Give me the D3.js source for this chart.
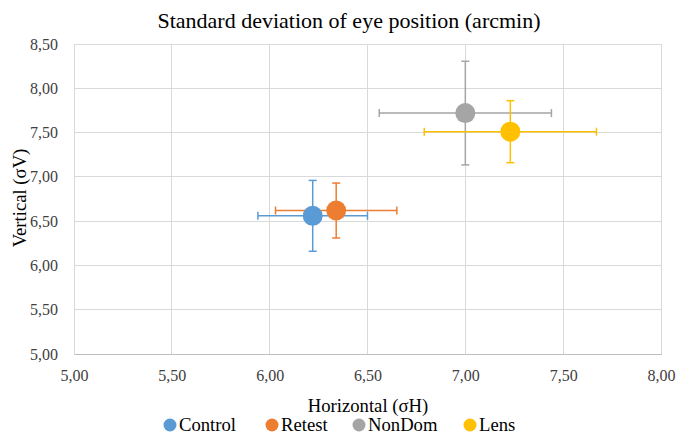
<!DOCTYPE html>
<html><head><meta charset="utf-8">
<script src="https://cdn.jsdelivr.net/npm/d3@7/dist/d3.min.js"></script>
<style>body{margin:0;background:#fff}svg{display:block}</style>
</head><body>
<svg id="c" width="679" height="436"></svg>
<script>
const seriesNames = ["Control", "Retest", "NonDom", "Lens"];
const seriesColors = ["#5B9BD5", "#ED7D31", "#A5A5A5", "#FFC000"];
const xValues = [6.22, 6.34, 7.00, 7.23];
const yValues = [6.56, 6.62, 7.72, 7.51];
const xErrors = [0.28, 0.31, 0.44, 0.44];
const yErrors = [0.40, 0.31, 0.585, 0.35];
const xTicks = [5.0, 5.5, 6.0, 6.5, 7.0, 7.5, 8.0];
const yTicks = [5.0, 5.5, 6.0, 6.5, 7.0, 7.5, 8.0, 8.5];
const titleText = "Standard deviation of eye position (arcmin)";
const xTitle = "Horizontal (σH)";
const yTitle = "Vertical (σV)";

const font = "Liberation Serif, Times New Roman, serif";
const svg = d3.select("#c");
const L = 74, R = 661, T = 44, B = 354;
const x = d3.scaleLinear().domain([5, 8]).range([L, R]);
const y = d3.scaleLinear().domain([5, 8.5]).range([B, T]);
const fmt = d => d.toFixed(2).replace(".", ",");

// gridlines
svg.append("g").selectAll("line").data(xTicks).join("line")
  .attr("x1", d => x(d)).attr("x2", d => x(d)).attr("y1", T).attr("y2", B)
  .attr("stroke", "#D9D9D9").attr("stroke-width", 1).attr("shape-rendering", "crispEdges");
svg.append("g").selectAll("line").data(yTicks).join("line")
  .attr("x1", L).attr("x2", R).attr("y1", d => y(d)).attr("y2", d => y(d))
  .attr("stroke", "#D9D9D9").attr("stroke-width", 1).attr("shape-rendering", "crispEdges");

// axes (labels only)
const xAxis = svg.append("g").attr("transform", `translate(0,${B})`)
  .call(d3.axisBottom(x).tickValues(xTicks).tickFormat(fmt).tickSize(0).tickPadding(16));
xAxis.attr("font-family", font).attr("font-size", 16);
xAxis.select(".domain").attr("stroke", "#BFBFBF").attr("shape-rendering", "crispEdges");
xAxis.selectAll("text").attr("fill", "#404040");

const yAxis = svg.append("g").attr("transform", `translate(${L},0)`)
  .call(d3.axisLeft(y).tickValues(yTicks).tickFormat(fmt).tickSize(0).tickPadding(16));
yAxis.attr("font-family", font).attr("font-size", 16);
yAxis.select(".domain").attr("stroke", "#D9D9D9").attr("shape-rendering", "crispEdges");
yAxis.selectAll("text").attr("fill", "#404040");

// error bars + points
const data = seriesNames.map((n, i) => ({n, c: seriesColors[i], x: xValues[i], y: yValues[i], ex: xErrors[i], ey: yErrors[i]}));
const cap = 4;
const g = svg.append("g");
data.forEach(d => {
  const e = g.append("g").attr("stroke", d.c).attr("stroke-width", 1.5).attr("fill", "none");
  e.append("line").attr("x1", x(d.x - d.ex)).attr("x2", x(d.x + d.ex)).attr("y1", y(d.y)).attr("y2", y(d.y));
  e.append("line").attr("x1", x(d.x - d.ex)).attr("x2", x(d.x - d.ex)).attr("y1", y(d.y) - cap).attr("y2", y(d.y) + cap);
  e.append("line").attr("x1", x(d.x + d.ex)).attr("x2", x(d.x + d.ex)).attr("y1", y(d.y) - cap).attr("y2", y(d.y) + cap);
  e.append("line").attr("x1", x(d.x)).attr("x2", x(d.x)).attr("y1", y(d.y - d.ey)).attr("y2", y(d.y + d.ey));
  e.append("line").attr("x1", x(d.x) - cap).attr("x2", x(d.x) + cap).attr("y1", y(d.y - d.ey)).attr("y2", y(d.y - d.ey));
  e.append("line").attr("x1", x(d.x) - cap).attr("x2", x(d.x) + cap).attr("y1", y(d.y + d.ey)).attr("y2", y(d.y + d.ey));
});
g.selectAll("circle").data(data).join("circle")
  .attr("cx", d => x(d.x)).attr("cy", d => y(d.y)).attr("r", 10).attr("fill", d => d.c);

// titles
svg.append("text").attr("x", 349).attr("y", 28).attr("text-anchor", "middle")
  .attr("font-family", font).attr("font-size", 22).attr("fill", "#000").text(titleText);
svg.append("text").attr("x", 368).attr("y", 412).attr("text-anchor", "middle")
  .attr("font-family", font).attr("font-size", 18.67).attr("fill", "#000").text(xTitle);
svg.append("text").attr("transform", `translate(26,198) rotate(-90)`).attr("text-anchor", "middle")
  .attr("font-family", font).attr("font-size", 18.67).attr("fill", "#000").text(yTitle);

// legend
const legX = [170, 272, 359, 470];
const leg = svg.append("g").selectAll("g").data(data).join("g")
  .attr("transform", (d, i) => `translate(${legX[i]},425)`);
leg.append("circle").attr("r", 6.5).attr("fill", d => d.c);
leg.append("text").attr("x", 9).attr("y", 6).attr("font-family", font).attr("font-size", 18.67)
  .attr("fill", "#000").text(d => d.n);
</script>
</body></html>
